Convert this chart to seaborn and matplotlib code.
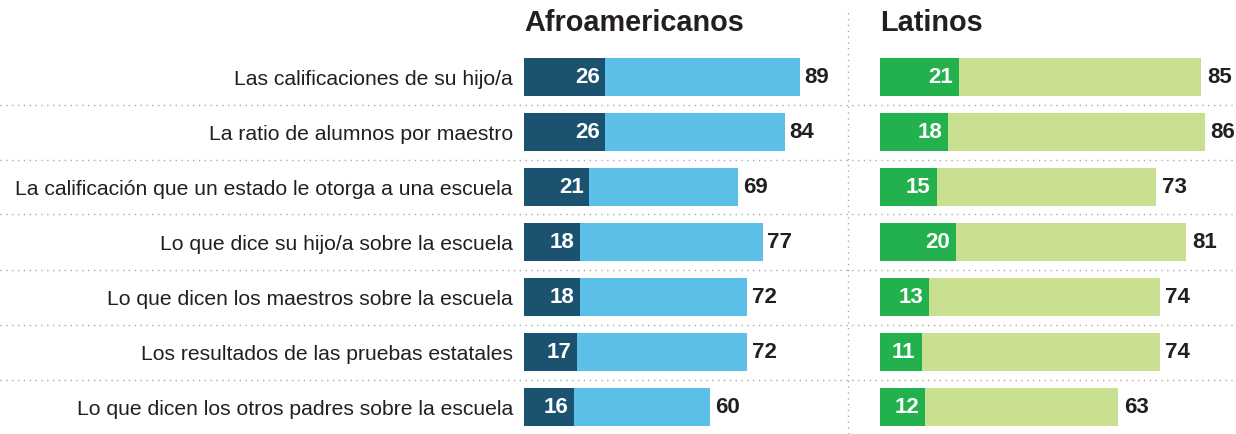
import matplotlib
matplotlib.use("Agg")
import matplotlib.pyplot as plt
import matplotlib.font_manager as fm
from matplotlib.lines import Line2D
import pandas as pd
import seaborn as sns

categories = [
    "Las calificaciones de su hijo/a",
    "La ratio de alumnos por maestro",
    "La calificación que un estado le otorga a una escuela",
    "Lo que dice su hijo/a sobre la escuela",
    "Lo que dicen los maestros sobre la escuela",
    "Los resultados de las pruebas estatales",
    "Lo que dicen los otros padres sobre la escuela",
]
afro_strong = [26, 26, 21, 18, 18, 17, 16]
afro_total = [89, 84, 69, 77, 72, 72, 60]
latino_strong = [21, 18, 15, 20, 13, 11, 12]
latino_total = [85, 86, 73, 81, 74, 74, 63]

groups = ["Afroamericanos", "Latinos"]

sns.set_theme(style="white")
plt.rcParams["font.family"] = ["Liberation Sans", "DejaVu Sans"]

installed = {f.name for f in fm.fontManager.ttflist}
num_font = "Liberation Sans Narrow" if "Liberation Sans Narrow" in installed else "Liberation Sans"

W, H = 1236, 434
fig = plt.figure(figsize=(W / 100, H / 100), dpi=100)

def px(x0, y0, x1, y1):
    # pixel box (top-left origin) -> figure fraction
    return [x0 / W, 1 - y1 / H, (x1 - x0) / W, (y1 - y0) / H]

panels = [
    dict(strong=afro_strong, total=afro_total, dark="#1a5270", light="#5bbfe7",
         box=px(524, 49.5, 845, 434.5), xmax=103.5),
    dict(strong=latino_strong, total=latino_total, dark="#22b14c", light="#c9df90",
         box=px(880, 49.5, 1236, 434.5), xmax=94.2),
]

text_col = "#231f20"
for i, (name, p) in enumerate(zip(groups, panels)):
    ax = fig.add_axes(p["box"])
    df = pd.DataFrame({"cat": categories, "strong": p["strong"], "total": p["total"]})
    sns.barplot(data=df, y="cat", x="total", color=p["light"], saturation=1,
                width=0.69, linewidth=0, ax=ax, orient="h")
    sns.barplot(data=df, y="cat", x="strong", color=p["dark"], saturation=1,
                width=0.69, linewidth=0, ax=ax, orient="h")
    ax.set_xlim(0, p["xmax"])
    ax.set_ylim(len(categories) - 0.5, -0.5)
    ax.set_xlabel("")
    ax.set_ylabel("")
    ax.set_xticks([])
    for s in ax.spines.values():
        s.set_visible(False)
    if i == 0:
        ax.tick_params(axis="y", length=0, pad=8, labelsize=15.2, labelcolor=text_col)
        for lab in ax.get_yticklabels():
            lab.set_va("center_baseline")
    else:
        ax.set_yticks([])
    for j in range(len(categories)):
        ax.text(p["strong"][j] - 1.6, j, str(p["strong"][j]), ha="right", va="center",
                color="white", fontsize=16, fontweight="bold", family=num_font)
        ax.text(p["total"][j] + 1.5, j, str(p["total"][j]), ha="left", va="center",
                color=text_col, fontsize=16, fontweight="bold", family=num_font)
    fig.text(p["box"][0], 1 - 23 / H, name, ha="left", va="center",
             fontsize=20.8, fontweight="bold", color=text_col)

# dotted separators between rows, across the full width
sep_kw = dict(color="#a8a8a8", lw=1, linestyle=(0, (1, 3.2)))
for k in range(1, len(categories)):
    y = 1 - (49.5 + 55 * k) / H
    fig.add_artist(Line2D([0, 1], [y, y], transform=fig.transFigure, **sep_kw))
fig.add_artist(Line2D([848 / W, 848 / W], [0, 1 - 8 / H], transform=fig.transFigure, **sep_kw))

fig.savefig("out.png", dpi=100)
